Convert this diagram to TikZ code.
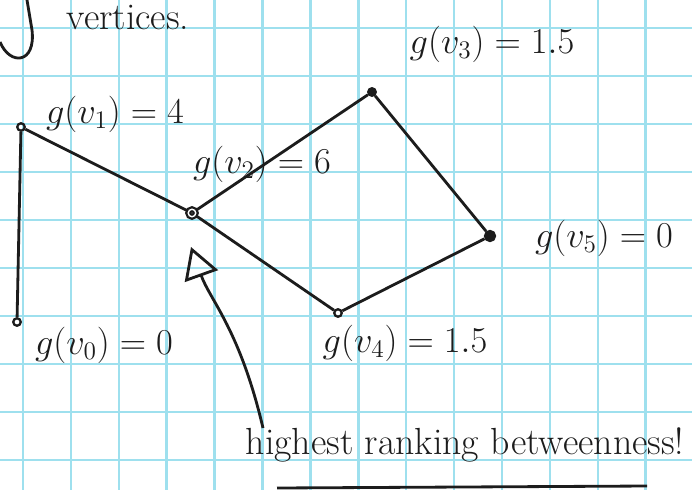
\documentclass[tikz,border=0pt]{standalone}
\usetikzlibrary{arrows.meta}
\definecolor{gridcyan}{RGB}{158,224,238}
\definecolor{ink}{RGB}{28,28,28}

\begin{document}
\begin{tikzpicture}[
    x=0.02cm, y=-0.02cm,
    every node/.style={font=\fontsize{21.5}{25}\selectfont, text=ink},
    vertex/.style={circle, draw=ink, line width=1.3pt, inner sep=0pt, minimum size=0.15cm},
    link/.style={draw=ink, line width=1.6pt},
    gridline/.style={draw=gridcyan, line width=1.4pt},
    pointer/.style={draw=ink, line width=1.6pt, -{Triangle[open, length=0.62cm, width=0.7cm, line width=1.6pt]}}
]
    \useasboundingbox [fill=white] (0,0) rectangle (692,490);
    \foreach \gx in {23,70.9,...,692} { \draw [gridline] (\gx,0) -- (\gx,490); }
    \foreach \gy in {28,76,...,490} { \draw [gridline] (0,\gy) -- (692,\gy); }

    \draw [link] (0,42) .. controls (10,66) and (36,64) .. (32,30) -- (27,0);
    \node (top) at (128,17) {vertices.};

    \node [vertex] (v0) at (17,322) {};
    \node [vertex] (v1) at (21,127) {};
    \node [vertex, double, double distance=0.8pt] (v2) at (192,213) {};
    \node [vertex, fill=ink] (v3) at (372,92) {};
    \node [vertex] (v4) at (338,313) {};
    \node [vertex, fill=ink, minimum size=0.2cm] (v5) at (490,236) {};

    \draw [link] (v0) -- (v1);
    \draw [link] (v1) -- (v2);
    \draw [link] (v2) -- (v3);
    \draw [link] (v3) -- (v5);
    \draw [link] (v5) -- (v4);
    \draw [link] (v4) -- (v2);

    \node (lv0) at (104,345) {$g(v_0) = 0$};
    \node (lv1) at (115,114) {$g(v_1) = 4$};
    \node (lv2) at (262,164) {$g(v_2) = 6$};
    \node (lv3) at (492,44) {$g(v_3) = 1.5$};
    \node (lv4) at (405,343) {$g(v_4) = 1.5$};
    \node (lv5) at (604,238) {$g(v_5) = 0$};

    \node (note) at (465,445) {highest ranking betweenness!};
    \coordinate (tail) at (263,428);
    \coordinate (tip) at (191,247);
    \draw [pointer] (tail) .. controls (240,330) and (210,300) .. (tip);
    \coordinate (ul) at (277,488);
    \coordinate (ur) at (647,486);
    \draw [link] (ul) -- (ur);
\end{tikzpicture}
\end{document}
